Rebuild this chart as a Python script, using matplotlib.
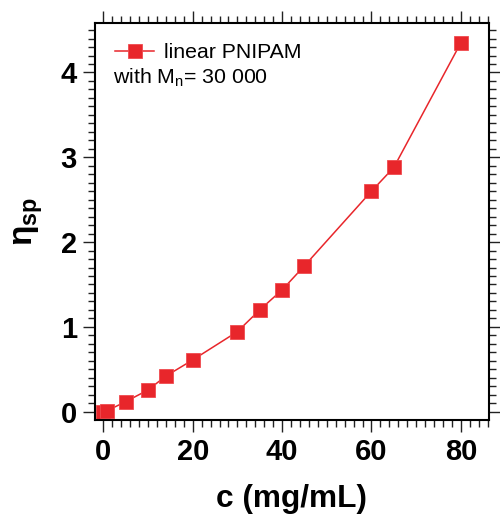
import matplotlib
matplotlib.use("Agg")
import matplotlib.pyplot as plt
from matplotlib.ticker import MultipleLocator

plt.rcParams['font.family'] = ['Liberation Sans', 'DejaVu Sans']
plt.rcParams['mathtext.fontset'] = 'custom'
plt.rcParams['mathtext.rm'] = 'Liberation Sans'
plt.rcParams['mathtext.it'] = 'Liberation Sans'
plt.rcParams['mathtext.bf'] = 'Liberation Sans:bold'

conc = [0, 0.8, 5, 10, 14, 20, 30, 35, 40, 45, 60, 65, 80]
eta_sp = [0.0, 0.01, 0.118, 0.256, 0.42, 0.61, 0.944, 1.20, 1.436, 1.72, 2.60, 2.88, 4.35]
series_label = 'linear PNIPAM'
note = r'with M$_\mathregular{n}$= 30 000'
xlabel = 'c (mg/mL)'
ylabel = r'$\mathbf{\eta_{sp}}$'

red = '#E8262B'

fig = plt.figure(figsize=(5.0, 5.15), dpi=100)
W, H = 500, 515
x0, x1, yt, yb = 95, 489, 23.3, 420
ax = fig.add_axes([x0 / W, (H - yb) / H, (x1 - x0) / W, (yb - yt) / H])

ax.plot(conc, eta_sp, color=red, lw=1.1, marker='s', markersize=10.5,
        markerfacecolor=red, markeredgecolor='#F04A4E', markeredgewidth=0.6,
        label=series_label)

ax.set_xlim(-1.86, 86.3)
ax.set_ylim(-0.098, 4.58)

ax.xaxis.set_major_locator(MultipleLocator(20))
ax.xaxis.set_minor_locator(MultipleLocator(2))
ax.yaxis.set_major_locator(MultipleLocator(1))
ax.yaxis.set_minor_locator(MultipleLocator(0.1))

for s in ax.spines.values():
    s.set_linewidth(1.5)
ax.tick_params(which='both', direction='out', top=True, right=True, width=1.0,
               color='#222222')
ax.tick_params(which='major', length=8.5)
ax.tick_params(which='minor', length=4.8)
ax.tick_params(axis='both', which='major', labelsize=21, pad=4.5)
for lab in ax.get_xticklabels() + ax.get_yticklabels():
    lab.set_fontweight('bold')

ax.set_xlabel(xlabel, fontsize=22.8, fontweight='bold', labelpad=13)
ax.set_ylabel(ylabel, fontsize=24, labelpad=11)

aw, ah = x1 - x0, yb - yt
leg = ax.legend(loc='center left', bbox_to_anchor=((115 - x0) / aw, 1 - (52.7 - yt) / ah),
                frameon=False, fontsize=15.3, borderpad=0, borderaxespad=0,
                handlelength=1.85, handletextpad=0.45, markerscale=0.9)
ax.text((112.7 - x0) / aw, 1 - (83.3 - yt) / ah, note, transform=ax.transAxes,
        fontsize=15.3, va='baseline', ha='left')

fig.savefig('out.png', dpi=100)
